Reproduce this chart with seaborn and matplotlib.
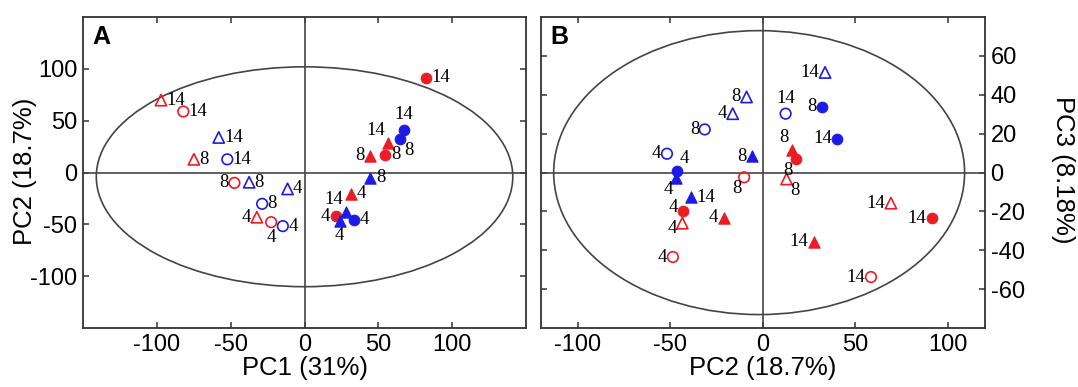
import numpy as np
import pandas as pd
import matplotlib
matplotlib.use("Agg")
import matplotlib.pyplot as plt
from matplotlib.patches import Ellipse
import seaborn as sns

# ---- data -------------------------------------------------------------
days = [4, 8, 14]

# Panel A: PC1 vs PC2
a_red_open_circle_x = [-22.6, -47.5, -82.1]
a_red_open_circle_y = [-47.8, -9.9, 58.9]
a_red_open_tri_x = [-32.3, -74.9, -97.2]
a_red_open_tri_y = [-43.0, 12.8, 69.9]
a_blue_open_tri_x = [-11.5, -37.5, -58.1]
a_blue_open_tri_y = [-15.7, -9.3, 33.9]
a_blue_open_circle_x = [-14.7, -28.7, -52.3]
a_blue_open_circle_y = [-51.6, -30.1, 12.8]
a_red_fill_circle_x = [21.3, 54.8, 82.4]
a_red_fill_circle_y = [-42.3, 17.0, 91.6]
a_red_fill_tri_x = [31.7, 44.6, 56.6]
a_red_fill_tri_y = [-20.5, 16.3, 28.2]
a_blue_fill_circle_x = [33.3, 64.5, 67.2]
a_blue_fill_circle_y = [-45.5, 32.4, 41.3]
a_blue_fill_tri_x = [23.8, 44.6, 28.1]
a_blue_fill_tri_y = [-46.2, -5.1, -38.2]

# Panel B: PC2 vs PC3
b_red_open_circle_x = [-48.6, -10.1, 58.4]
b_red_open_circle_y = [-43.4, -2.4, -53.7]
b_red_open_tri_x = [-43.5, 12.8, 69.2]
b_red_open_tri_y = [-26.0, -3.3, -15.7]
b_blue_open_tri_x = [-16.3, -8.8, 33.6]
b_blue_open_tri_y = [30.3, 38.9, 51.5]
b_blue_open_circle_x = [-51.8, -31.4, 12.3]
b_blue_open_circle_y = [9.7, 22.2, 30.3]
b_red_fill_circle_x = [-43.1, 17.7, 91.3]
b_red_fill_circle_y = [-20.0, 7.1, -23.4]
b_red_fill_tri_x = [-21.1, 15.6, 27.6]
b_red_fill_tri_y = [-23.1, 11.4, -35.5]
b_blue_fill_circle_x = [-46.4, 31.8, 40.3]
b_blue_fill_circle_y = [0.7, 33.8, 17.4]
b_blue_fill_tri_x = [-46.9, -5.6, -38.8]
b_blue_fill_tri_y = [-2.7, 8.3, -12.8]

x_ticks_a = [-100, -50, 0, 50, 100]
y_ticks_a = [-100, -50, 0, 50, 100]
x_ticks_b = [-100, -50, 0, 50, 100]
y_ticks_b = [-60, -40, -20, 0, 20, 40, 60]

RED = "#ec1c24"
BLUE = "#1c1ce6"

# series: (x, y, colour, marker, filled, label sides for days 4/8/14)
series_a = [
    (a_red_open_circle_x, a_red_open_circle_y, RED, "o", False, ["b", "l", "r"]),
    (a_red_open_tri_x, a_red_open_tri_y, RED, "^", False, ["l", "r", "r"]),
    (a_blue_open_tri_x, a_blue_open_tri_y, BLUE, "^", False, ["r", "r", "r"]),
    (a_blue_open_circle_x, a_blue_open_circle_y, BLUE, "o", False, ["r", "r", "r"]),
    (a_red_fill_circle_x, a_red_fill_circle_y, RED, "o", True, ["l", "r", "r"]),
    (a_red_fill_tri_x, a_red_fill_tri_y, RED, "^", True, ["r", "l", "tl"]),
    (a_blue_fill_circle_x, a_blue_fill_circle_y, BLUE, "o", True, ["r", "br", "t"]),
    (a_blue_fill_tri_x, a_blue_fill_tri_y, BLUE, "^", True, ["b", "r", "tl"]),
]
series_b = [
    (b_red_open_circle_x, b_red_open_circle_y, RED, "o", False, ["l", "bl", "l"]),
    (b_red_open_tri_x, b_red_open_tri_y, RED, "^", False, ["ld", "br", "l"]),
    (b_blue_open_tri_x, b_blue_open_tri_y, BLUE, "^", False, ["l", "l", "l"]),
    (b_blue_open_circle_x, b_blue_open_circle_y, BLUE, "o", False, ["l", "l", "t"]),
    (b_red_fill_circle_x, b_red_fill_circle_y, RED, "o", True, ["lu", "bl", "l"]),
    (b_red_fill_tri_x, b_red_fill_tri_y, RED, "^", True, ["l", "tl", "l"]),
    (b_blue_fill_circle_x, b_blue_fill_circle_y, BLUE, "o", True, ["tr", "l", "l"]),
    (b_blue_fill_tri_x, b_blue_fill_tri_y, BLUE, "^", True, ["bl", "l", "r"]),
]

# ---- styling ----------------------------------------------------------
sns.set_theme(style="white")
plt.rcParams["font.family"] = ["Liberation Sans", "DejaVu Sans"]
plt.rcParams["axes.linewidth"] = 1.3
plt.rcParams["axes.edgecolor"] = "#333333"
plt.rcParams["axes.unicode_minus"] = False
plt.rcParams["text.color"] = "black"
plt.rcParams["axes.labelcolor"] = "black"
plt.rcParams["xtick.color"] = "black"
plt.rcParams["ytick.color"] = "black"

OFFSETS = {
    "r": ((4, 0), "left", "center"),
    "l": ((-4, 0), "right", "center"),
    "lu": ((-4, 3), "right", "center"),
    "ld": ((-4, -4), "right", "center"),
    "t": ((0, 5), "center", "bottom"),
    "b": ((0, -5), "center", "top"),
    "tl": ((-2, 3), "right", "bottom"),
    "tr": ((2, 3), "left", "bottom"),
    "bl": ((-2, -2), "right", "top"),
    "br": ((3, -2), "left", "top"),
}


def draw_panel(ax, series):
    for xs, ys, col, mk, filled, sides in series:
        df = pd.DataFrame({"x": xs, "y": ys, "day": days})
        size = 58 if mk == "o" else 66
        if filled:
            sns.scatterplot(data=df, x="x", y="y", ax=ax, marker=mk, s=size,
                            color=col, edgecolor=col, linewidth=0.8, zorder=3)
        else:
            sns.scatterplot(data=df, x="x", y="y", ax=ax, marker=mk, s=size,
                            facecolor="none", edgecolor=col, linewidth=1.2,
                            zorder=3)
        for xv, yv, d, side in zip(xs, ys, days, sides):
            off, ha, va = OFFSETS[side]
            ax.annotate(str(d), (xv, yv), xytext=off, textcoords="offset points",
                        ha=ha, va=va, fontsize=13.5, color="black",
                        family=["Liberation Serif", "DejaVu Serif"], zorder=4)


fig = plt.figure(figsize=(10.78, 3.87), dpi=100)
ax_a = fig.add_axes([0.077, 0.152, 0.411, 0.804])
ax_b = fig.add_axes([0.5016, 0.152, 0.4121, 0.804])

for ax in (ax_a, ax_b):
    ax.axhline(0, color="#444444", lw=1.2, zorder=1)
    ax.axvline(0, color="#444444", lw=1.2, zorder=1)

ax_a.add_patch(Ellipse((0, -4), 2 * 141, 2 * 106, fill=False,
                       edgecolor="#444444", lw=1.2, zorder=2))
ax_b.add_patch(Ellipse((-2, 0), 2 * 111, 2 * 73, fill=False,
                       edgecolor="#444444", lw=1.2, zorder=2))

draw_panel(ax_a, series_a)
draw_panel(ax_b, series_b)

ax_a.set_xlim(-150, 150)
ax_a.set_ylim(-150, 150)
ax_a.set_xticks(x_ticks_a)
ax_a.set_yticks(y_ticks_a)
ax_a.set_xlabel("PC1 (31%)", fontsize=18.5, labelpad=0)
ax_a.set_ylabel("")

ax_b.set_xlim(-120, 120)
ax_b.set_ylim(-80, 80)
ax_b.set_xticks(x_ticks_b)
ax_b.set_yticks(y_ticks_b)
ax_b.set_xlabel("PC2 (18.7%)", fontsize=18.5, labelpad=0)
ax_b.set_ylabel("")

# vertical axis titles placed in figure pixels
fig.text(25 / 1078, 1 - 171 / 387, "PC2 (18.7%)", rotation=90, fontsize=18.5,
         ha="center", va="center")
fig.text(1063 / 1078, 1 - 170 / 387, "PC3 (8.18%)", rotation=-90, fontsize=18.5,
         ha="center", va="center")

for ax in (ax_a, ax_b):
    ax.tick_params(direction="in", length=4, width=1.1, color="#333333",
                   labelcolor="black", top=True, bottom=True, left=True,
                   right=True, labelsize=17, pad=4)
    for sp in ax.spines.values():
        sp.set_visible(True)
        sp.set_color("#333333")

ax_b.tick_params(labelleft=False, labelright=True)

ax_a.text(0.022, 0.975, "A", transform=ax_a.transAxes, fontsize=18,
          fontweight="bold", ha="left", va="top")
ax_b.text(0.022, 0.975, "B", transform=ax_b.transAxes, fontsize=18,
          fontweight="bold", ha="left", va="top")

fig.savefig("out.png", dpi=100)
